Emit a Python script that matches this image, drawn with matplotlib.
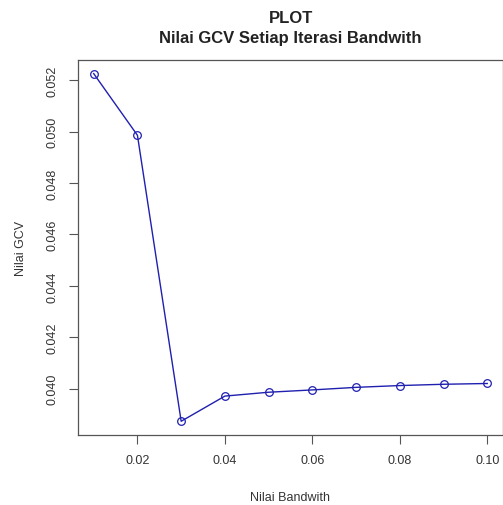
import matplotlib
matplotlib.use("Agg")
import matplotlib.pyplot as plt

plt.rcParams['font.family'] = ['Liberation Sans', 'DejaVu Sans']

# bandwidth values and GCV values
bandwidth = [0.01, 0.02, 0.03, 0.04, 0.05, 0.06, 0.07, 0.08, 0.09, 0.10]
gcv = [0.05226, 0.04986, 0.03873, 0.03971, 0.03986, 0.03995,
       0.04005, 0.04012, 0.04017, 0.04020]

x_ticks = [0.02, 0.04, 0.06, 0.08, 0.10]
x_tick_labels = ["0.02", "0.04", "0.06", "0.08", "0.10"]
y_ticks = [0.040, 0.042, 0.044, 0.046, 0.048, 0.050, 0.052]
y_tick_labels = ["0.040", "0.042", "0.044", "0.046", "0.048", "0.050", "0.052"]

fig = plt.figure(figsize=(5.03, 5.06), dpi=100)
ax = fig.add_axes([0.155, 0.138, 0.845, 0.742])

ax.plot(bandwidth, gcv, color='#2020b0', linewidth=1.0, marker='o',
        markersize=5.5, markerfacecolor='none', markeredgecolor='#2020b0',
        markeredgewidth=0.9)

# R style 4% padding on both axes
xr = max(bandwidth) - min(bandwidth)
yr = max(gcv) - min(gcv)
ax.set_xlim(min(bandwidth) - 0.04 * xr, max(bandwidth) + 0.04 * xr)
ax.set_ylim(min(gcv) - 0.04 * yr, max(gcv) + 0.04 * yr)

ax.set_xticks(x_ticks)
ax.set_xticklabels(x_tick_labels)
ax.set_yticks(y_ticks)
ax.set_yticklabels(y_tick_labels, rotation=90, va='center')

ax.tick_params(axis='both', direction='out', length=6.7, width=0.8,
               color='#555555', labelsize=9, labelcolor='#333333', pad=7)

for s in ax.spines.values():
    s.set_color('#555555')
    s.set_linewidth(0.9)

ax.set_xlabel("Nilai Bandwith", fontsize=9, color='#333333', labelpad=18)
ax.set_ylabel("Nilai GCV", fontsize=9, color='#333333', labelpad=14)

fig.text(0.578, 0.964, "PLOT", ha='center', va='center',
         fontsize=12, fontweight='bold', color='#222222')
fig.text(0.578, 0.924, "Nilai GCV Setiap Iterasi Bandwith", ha='center',
         va='center', fontsize=12, fontweight='bold', color='#222222')

fig.savefig("out.png", dpi=100)
